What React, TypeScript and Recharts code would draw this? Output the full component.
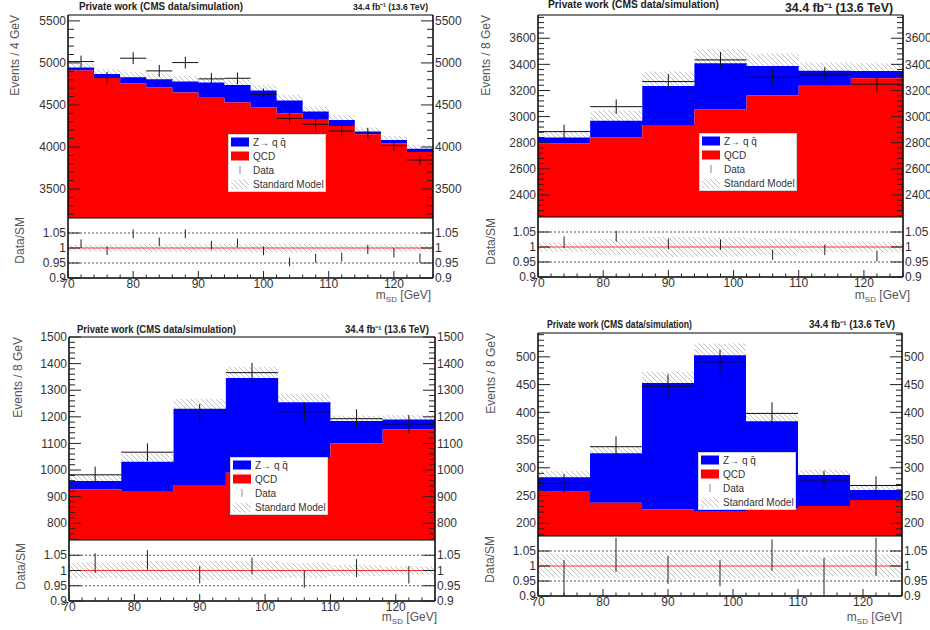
import React from 'react';
import {
  ComposedChart,
  Area,
  Scatter,
  ErrorBar,
  XAxis,
  YAxis,
  ReferenceLine,
  ReferenceArea,
  Legend,
} from 'recharts';

const FONT = '"Liberation Sans", Arial, Helvetica, sans-serif';

// bin edges (GeV)
const edges4 = [70, 74, 78, 82, 86, 90, 94, 98, 102, 106, 110, 114, 118, 122, 126];
const edges8 = [70, 78, 86, 94, 102, 110, 118, 126];

// top-left: 4 GeV bins
const qcdA = [4910, 4829, 4758, 4710, 4647, 4587, 4528, 4472, 4401, 4333, 4250, 4151, 4044, 3940];
const zqqA = [35, 40, 71, 96, 131, 179, 210, 199, 151, 88, 71, 32, 39, 40];
const smUncA = [55, 55, 60, 65, 65, 65, 65, 70, 70, 60, 55, 50, 50, 45];
const dataA = [5016, 4825, 5056, 4905, 5004, 4810, 4817, 4627, 4341, 4270, 4190, 4163, 4016, 3845];
const dataErrA = [71, 69, 71, 70, 71, 69, 69, 68, 66, 65, 65, 65, 63, 62];

// top-right: 8 GeV bins
const qcdB = [2795, 2841, 2936, 3056, 3161, 3242, 3293];
const zqqB = [44, 128, 299, 352, 227, 110, 57];
const smUncB = [45, 80, 110, 110, 97, 62, 58];
const dataB = [2885, 3076, 3268, 3434, 3301, 3319, 3248];
const dataErrB = [54, 55, 57, 59, 57, 58, 57];

// bottom-left
const qcdC = [927, 921, 944, 990, 1045, 1100, 1152];
const zqqC = [32, 110, 286, 356, 210, 84, 38];
const smUncC = [25, 31, 38, 41, 31, 21, 17];
const dataC = [982, 1067, 1213, 1366, 1219, 1193, 1173];
const dataErrC = [31, 33, 35, 37, 35, 35, 34];

// bottom-right
const qcdD = [257, 237, 225, 222, 226, 231, 242];
const zqqD = [26, 89, 228, 281, 158, 56, 18];
const smUncD = [11, 13, 20, 21, 16, 10, 10];
const dataD = [272, 338, 447, 491, 398, 278, 268];
const dataErrD = [16.5, 18.4, 21, 22, 20, 16.7, 16.4];

// tick labels
const xMajors = [70, 80, 90, 100, 110, 120];
const ratioMajors = [0.9, 0.95, 1, 1.05];
const yMajorsA = [3500, 4000, 4500, 5000, 5500];
const yMajorsB = [2400, 2600, 2800, 3000, 3200, 3400, 3600];
const yMajorsC = [800, 900, 1000, 1100, 1200, 1300, 1400, 1500];
const yMajorsD = [200, 250, 300, 350, 400, 450, 500];

const legendLabels = ['Z\u2192 q q\u0304', 'QCD', 'Data', 'Standard Model'];
const titleText = 'Private work (CMS data/simulation)';
const lumiText = '34.4 fb\u207B\u00B9 (13.6 TeV)';

const PAD = 10; // room above the main frame so the top tick label is not clipped

function range(from: number, to: number, step: number) {
  const out: number[] = [];
  for (let v = from; v <= to + step * 1e-6; v += step) out.push(+v.toFixed(4));
  return out;
}

const xTicks = range(70, 126, 2);

type TextPos = { x: number; y: number; len?: number; size?: number };

interface Panel {
  key: string;
  edges: number[];
  qcd: number[];
  zqq: number[];
  unc: number[];
  data: number[];
  err: number[];
  yDomain: [number, number];
  yMajors: number[];
  yMinor: [number, number, number];
  yTitle: string;
  plotLeft: number;
  plotRight: number;
  mainTop: number;
  mainBottom: number;
  ratioBottom: number;
  legendPos: { left: number; top: number };
  title: TextPos;
  lumi: TextPos;
  yTitlePos: TextPos;
  ratioTitlePos: TextPos;
  xTitlePos: TextPos;
}

const panels: Panel[] = [
  {
    key: 'a', edges: edges4, qcd: qcdA, zqq: zqqA, unc: smUncA, data: dataA, err: dataErrA,
    yDomain: [3155, 5570], yMajors: yMajorsA, yMinor: [3200, 5500, 100], yTitle: 'Events / 4 GeV',
    plotLeft: 68, plotRight: 433, mainTop: 15, mainBottom: 218, ratioBottom: 278,
    legendPos: { left: 200, top: 119 },
    title: { x: 79, y: 10, len: 164, size: 11 }, lumi: { x: 353, y: 9.5, len: 75, size: 9 },
    yTitlePos: { x: 18.5, y: 15 }, ratioTitlePos: { x: 24, y: 217 }, xTitlePos: { x: 431, y: 299 },
  },
  {
    key: 'b', edges: edges8, qcd: qcdB, zqq: zqqB, unc: smUncB, data: dataB, err: dataErrB,
    yDomain: [2231, 3778], yMajors: yMajorsB, yMinor: [2240, 3760, 40], yTitle: 'Events / 8 GeV',
    plotLeft: 538, plotRight: 903, mainTop: 15, mainBottom: 217, ratioBottom: 277,
    legendPos: { left: 201, top: 118 },
    title: { x: 548, y: 8, len: 171, size: 11.5 }, lumi: { x: 785, y: 12, len: 108, size: 13 },
    yTitlePos: { x: 489.5, y: 15 }, ratioTitlePos: { x: 494.5, y: 218 }, xTitlePos: { x: 910, y: 299 },
  },
  {
    key: 'c', edges: edges8, qcd: qcdC, zqq: zqqC, unc: smUncC, data: dataC, err: dataErrC,
    yDomain: [737, 1500], yMajors: yMajorsC, yMinor: [740, 1500, 20], yTitle: 'Events / 8 GeV',
    plotLeft: 69, plotRight: 435, mainTop: 337, mainBottom: 540, ratioBottom: 601,
    legendPos: { left: 201, top: 120 },
    title: { x: 77, y: 333, len: 159, size: 11 }, lumi: { x: 345, y: 333, len: 84, size: 10 },
    yTitlePos: { x: 21.5, y: 337 }, ratioTitlePos: { x: 24.5, y: 543 }, xTitlePos: { x: 437, y: 621 },
  },
  {
    key: 'd', edges: edges8, qcd: qcdD, zqq: zqqD, unc: smUncD, data: dataD, err: dataErrD,
    yDomain: [177, 543], yMajors: yMajorsD, yMinor: [180, 540, 10], yTitle: 'Events / 8 GeV',
    plotLeft: 538, plotRight: 902, mainTop: 333, mainBottom: 536, ratioBottom: 596,
    legendPos: { left: 200, top: 119 },
    title: { x: 547, y: 328, len: 145, size: 10.5 }, lumi: { x: 809, y: 328, len: 86, size: 10 },
    yTitlePos: { x: 494.5, y: 333 }, ratioTitlePos: { x: 493.5, y: 536 }, xTitlePos: { x: 902, y: 621 },
  },
];

function histRows(p: Panel) {
  const n = p.qcd.length;
  return p.edges.map((x, i) => {
    const b = Math.min(i, n - 1);
    const tot = p.qcd[b] + p.zqq[b];
    return {
      x,
      qcd: p.qcd[b],
      zqq: [p.qcd[b], tot],
      sm: [tot - p.unc[b], tot + p.unc[b]],
      band: [1 - p.unc[b] / tot, 1 + p.unc[b] / tot],
    };
  });
}

function dataPoints(p: Panel) {
  return p.data.map((y, i) => {
    const tot = p.qcd[i] + p.zqq[i];
    return {
      x: (p.edges[i] + p.edges[i + 1]) / 2,
      y,
      ex: (p.edges[i + 1] - p.edges[i]) / 2,
      ey: p.err[i],
      r: y / tot,
      er: p.err[i] / tot,
    };
  });
}

const isIn = (list: number[], v: number) => list.some((m) => Math.abs(m - v) < 1e-6);

function makeYTick(side: 'left' | 'right', majors: number[], majorLen: number, minorLen: number) {
  return (props: any) => {
    const { x, y, payload } = props;
    const v = payload.value as number;
    const major = isIn(majors, v);
    const dir = side === 'left' ? 1 : -1;
    return (
      <g>
        <line x1={x} y1={y} x2={x + dir * (major ? majorLen : minorLen)} y2={y} stroke="#222" strokeWidth={1} />
        {major ? (
          <text
            x={x - dir * 2}
            y={y}
            dy="0.35em"
            textAnchor={side === 'left' ? 'end' : 'start'}
            fontSize={12}
            fill="#333"
            fontFamily={FONT}
          >
            {String(v)}
          </text>
        ) : null}
      </g>
    );
  };
}

function makeXTick(withLabels: boolean) {
  return (props: any) => {
    const { x, y, payload } = props;
    const v = payload.value as number;
    const major = isIn(xMajors, v);
    return (
      <g>
        <line x1={x} y1={y} x2={x} y2={y - (major ? 7 : 3.5)} stroke="#222" strokeWidth={1} />
        {withLabels && major ? (
          <text x={x} y={y + 10} textAnchor="middle" fontSize={12} fill="#333" fontFamily={FONT}>
            {String(v)}
          </text>
        ) : null}
      </g>
    );
  };
}

function Hatch({ id }: { id: string }) {
  return (
    <pattern id={id} patternUnits="userSpaceOnUse" width={5} height={5}>
      <path d="M-1,-1 L6,6 M-1,4 L1,6 M4,-1 L6,1" stroke="#b0b0b0" strokeWidth={0.8} fill="none" />
    </pattern>
  );
}

const noMarker = () => <g />;

function LegendBox({ id }: { id: string }) {
  const rowY = [8, 22, 36, 50.5];
  return (
    <svg width={98} height={58} style={{ display: 'block' }}>
      <defs>
        <Hatch id={id} />
      </defs>
      <rect x={0.5} y={0.5} width={97} height={57} fill="#fff" stroke="#d4d4d4" />
      <rect x={3} y={rowY[0] - 4.5} width={18} height={9} fill="#0000ff" />
      <rect x={3} y={rowY[1] - 4.5} width={18} height={9} fill="#ff0000" />
      <line x1={12} y1={rowY[2] - 4} x2={12} y2={rowY[2] + 4} stroke="#888" strokeWidth={1} />
      <rect x={3} y={rowY[3] - 5} width={18} height={10} fill={`url(#${id})`} />
      {legendLabels.map((label, i) => (
        <text key={label} x={25} y={rowY[i]} dy="0.35em" fontSize={10} fill="#333" fontFamily={FONT}>
          {label}
        </text>
      ))}
    </svg>
  );
}

function MainPlot({ p }: { p: Panel }) {
  const rows = histRows(p);
  const pts = dataPoints(p);
  const w = p.plotRight - p.plotLeft + 80;
  const h = p.mainBottom - p.mainTop;
  const yTicks = range(p.yMinor[0], p.yMinor[1], p.yMinor[2]);
  const hatchId = `hatch-main-${p.key}`;
  return (
    <div style={{ position: 'absolute', left: p.plotLeft - 40, top: p.mainTop - PAD }}>
      <ComposedChart width={w} height={h + PAD} data={rows} margin={{ top: PAD, right: 0, bottom: 0, left: 0 }}>
        <defs>
          <Hatch id={hatchId} />
        </defs>
        <XAxis
          dataKey="x"
          type="number"
          domain={[70, 126]}
          allowDataOverflow
          ticks={xTicks}
          interval={0}
          height={0}
          tickSize={0}
          tickMargin={0}
          tickLine={false}
          axisLine={false}
          tick={makeXTick(false)}
        />
        <YAxis
          yAxisId="l"
          orientation="left"
          type="number"
          domain={p.yDomain}
          allowDataOverflow
          width={40}
          ticks={yTicks}
          interval={0}
          tickSize={0}
          tickMargin={0}
          tickLine={false}
          axisLine={{ stroke: '#000' }}
          tick={makeYTick('left', p.yMajors, 12, 6)}
        />
        <YAxis
          yAxisId="r"
          orientation="right"
          type="number"
          domain={p.yDomain}
          allowDataOverflow
          width={40}
          ticks={yTicks}
          interval={0}
          tickSize={0}
          tickMargin={0}
          tickLine={false}
          axisLine={{ stroke: '#000' }}
          tick={makeYTick('right', p.yMajors, 12, 6)}
        />
        <Area
          yAxisId="l"
          type="stepAfter"
          dataKey="sm"
          fill={`url(#${hatchId})`}
          fillOpacity={1}
          stroke="none"
          dot={false}
          activeDot={false}
          isAnimationActive={false}
        />
        <Area
          yAxisId="l"
          type="stepAfter"
          dataKey="zqq"
          fill="#0000ff"
          fillOpacity={1}
          stroke="none"
          dot={false}
          activeDot={false}
          isAnimationActive={false}
        />
        <Area
          yAxisId="l"
          type="stepAfter"
          dataKey="qcd"
          fill="#ff0000"
          fillOpacity={1}
          stroke="none"
          dot={false}
          activeDot={false}
          isAnimationActive={false}
        />
        <Scatter yAxisId="l" data={pts} dataKey="y" shape={noMarker} isAnimationActive={false}>
          <ErrorBar dataKey="ex" direction="x" width={0} stroke="#111" strokeWidth={1} isAnimationActive={false} />
          <ErrorBar dataKey="ey" direction="y" width={0} stroke="#111" strokeWidth={1} isAnimationActive={false} />
        </Scatter>
        <ReferenceArea
          yAxisId="l"
          x1={70}
          x2={126}
          y1={p.yDomain[0]}
          y2={p.yDomain[1]}
          fill="none"
          stroke="#000"
          strokeWidth={1}
          ifOverflow="visible"
        />
        <Legend
          layout="vertical"
          align="center"
          verticalAlign="middle"
          wrapperStyle={{ left: p.legendPos.left, top: p.legendPos.top + PAD, width: 98, height: 58 }}
          content={() => <LegendBox id={`hatch-leg-${p.key}`} />}
        />
      </ComposedChart>
    </div>
  );
}

function RatioPlot({ p }: { p: Panel }) {
  const rows = histRows(p);
  const pts = dataPoints(p);
  const w = p.plotRight - p.plotLeft + 80;
  const h = p.ratioBottom - p.mainBottom;
  const hatchId = `hatch-ratio-${p.key}`;
  return (
    <div style={{ position: 'absolute', left: p.plotLeft - 40, top: p.mainBottom }}>
      <ComposedChart width={w} height={h + 22} data={rows} margin={{ top: 0, right: 0, bottom: 0, left: 0 }}>
        <defs>
          <Hatch id={hatchId} />
        </defs>
        <XAxis
          dataKey="x"
          type="number"
          domain={[70, 126]}
          allowDataOverflow
          ticks={xTicks}
          interval={0}
          height={22}
          tickSize={0}
          tickMargin={0}
          tickLine={false}
          axisLine={{ stroke: '#000' }}
          tick={makeXTick(true)}
        />
        <YAxis
          yAxisId="l"
          orientation="left"
          type="number"
          domain={[0.9, 1.1]}
          allowDataOverflow
          width={40}
          ticks={ratioMajors}
          interval={0}
          tickSize={0}
          tickMargin={0}
          tickLine={false}
          axisLine={{ stroke: '#000' }}
          tick={makeYTick('left', ratioMajors, 12, 6)}
        />
        <YAxis
          yAxisId="r"
          orientation="right"
          type="number"
          domain={[0.9, 1.1]}
          allowDataOverflow
          width={40}
          ticks={ratioMajors}
          interval={0}
          tickSize={0}
          tickMargin={0}
          tickLine={false}
          axisLine={{ stroke: '#000' }}
          tick={makeYTick('right', ratioMajors, 12, 6)}
        />
        <Area
          yAxisId="l"
          type="stepAfter"
          dataKey="band"
          fill={`url(#${hatchId})`}
          fillOpacity={1}
          stroke="none"
          dot={false}
          activeDot={false}
          isAnimationActive={false}
        />
        <ReferenceLine yAxisId="l" y={1.05} stroke="#555" strokeDasharray="2 2" />
        <ReferenceLine yAxisId="l" y={0.95} stroke="#555" strokeDasharray="2 2" />
        <ReferenceLine yAxisId="l" y={1} stroke="#ff3030" strokeWidth={1} />
        <Scatter yAxisId="l" data={pts} dataKey="r" shape={noMarker} isAnimationActive={false}>
          <ErrorBar dataKey="er" direction="y" width={0} stroke="#222" strokeWidth={1} isAnimationActive={false} />
        </Scatter>
        <ReferenceArea
          yAxisId="l"
          x1={70}
          x2={126}
          y1={0.9}
          y2={1.1}
          fill="none"
          stroke="#000"
          strokeWidth={1}
          ifOverflow="visible"
        />
      </ComposedChart>
    </div>
  );
}

function PanelTexts({ p }: { p: Panel }) {
  return (
    <g fontFamily={FONT}>
      <text
        x={p.title.x}
        y={p.title.y}
        fontSize={p.title.size}
        fontWeight="bold"
        fill="#222"
        textLength={p.title.len}
        lengthAdjust="spacingAndGlyphs"
      >
        {titleText}
      </text>
      <text
        x={p.lumi.x}
        y={p.lumi.y}
        fontSize={p.lumi.size}
        fontWeight="bold"
        fill="#222"
        textLength={p.lumi.len}
        lengthAdjust="spacingAndGlyphs"
      >
        {lumiText}
      </text>
      <text
        transform={`translate(${p.yTitlePos.x},${p.yTitlePos.y}) rotate(-90)`}
        textAnchor="end"
        fontSize={12}
        fill="#555"
      >
        {p.yTitle}
      </text>
      <text
        transform={`translate(${p.ratioTitlePos.x},${p.ratioTitlePos.y}) rotate(-90)`}
        textAnchor="end"
        fontSize={12}
        fill="#555"
      >
        Data/SM
      </text>
      <text x={p.xTitlePos.x} y={p.xTitlePos.y} textAnchor="end" fontSize={12} fill="#555">
        <tspan>m</tspan>
        <tspan fontSize={8} dy={3}>SD</tspan>
        <tspan dy={-3}> [GeV]</tspan>
      </text>
    </g>
  );
}

export default function App() {
  return (
    <div
      style={{
        position: 'absolute',
        left: 0,
        top: 0,
        width: 930,
        height: 630,
        overflow: 'hidden',
        background: '#fff',
        fontFamily: FONT,
      }}
    >
      {panels.map((p) => (
        <React.Fragment key={p.key}>
          <MainPlot p={p} />
          <RatioPlot p={p} />
        </React.Fragment>
      ))}
      <svg
        width={930}
        height={630}
        style={{ position: 'absolute', left: 0, top: 0, pointerEvents: 'none' }}
      >
        {panels.map((p) => (
          <PanelTexts key={p.key} p={p} />
        ))}
      </svg>
    </div>
  );
}
